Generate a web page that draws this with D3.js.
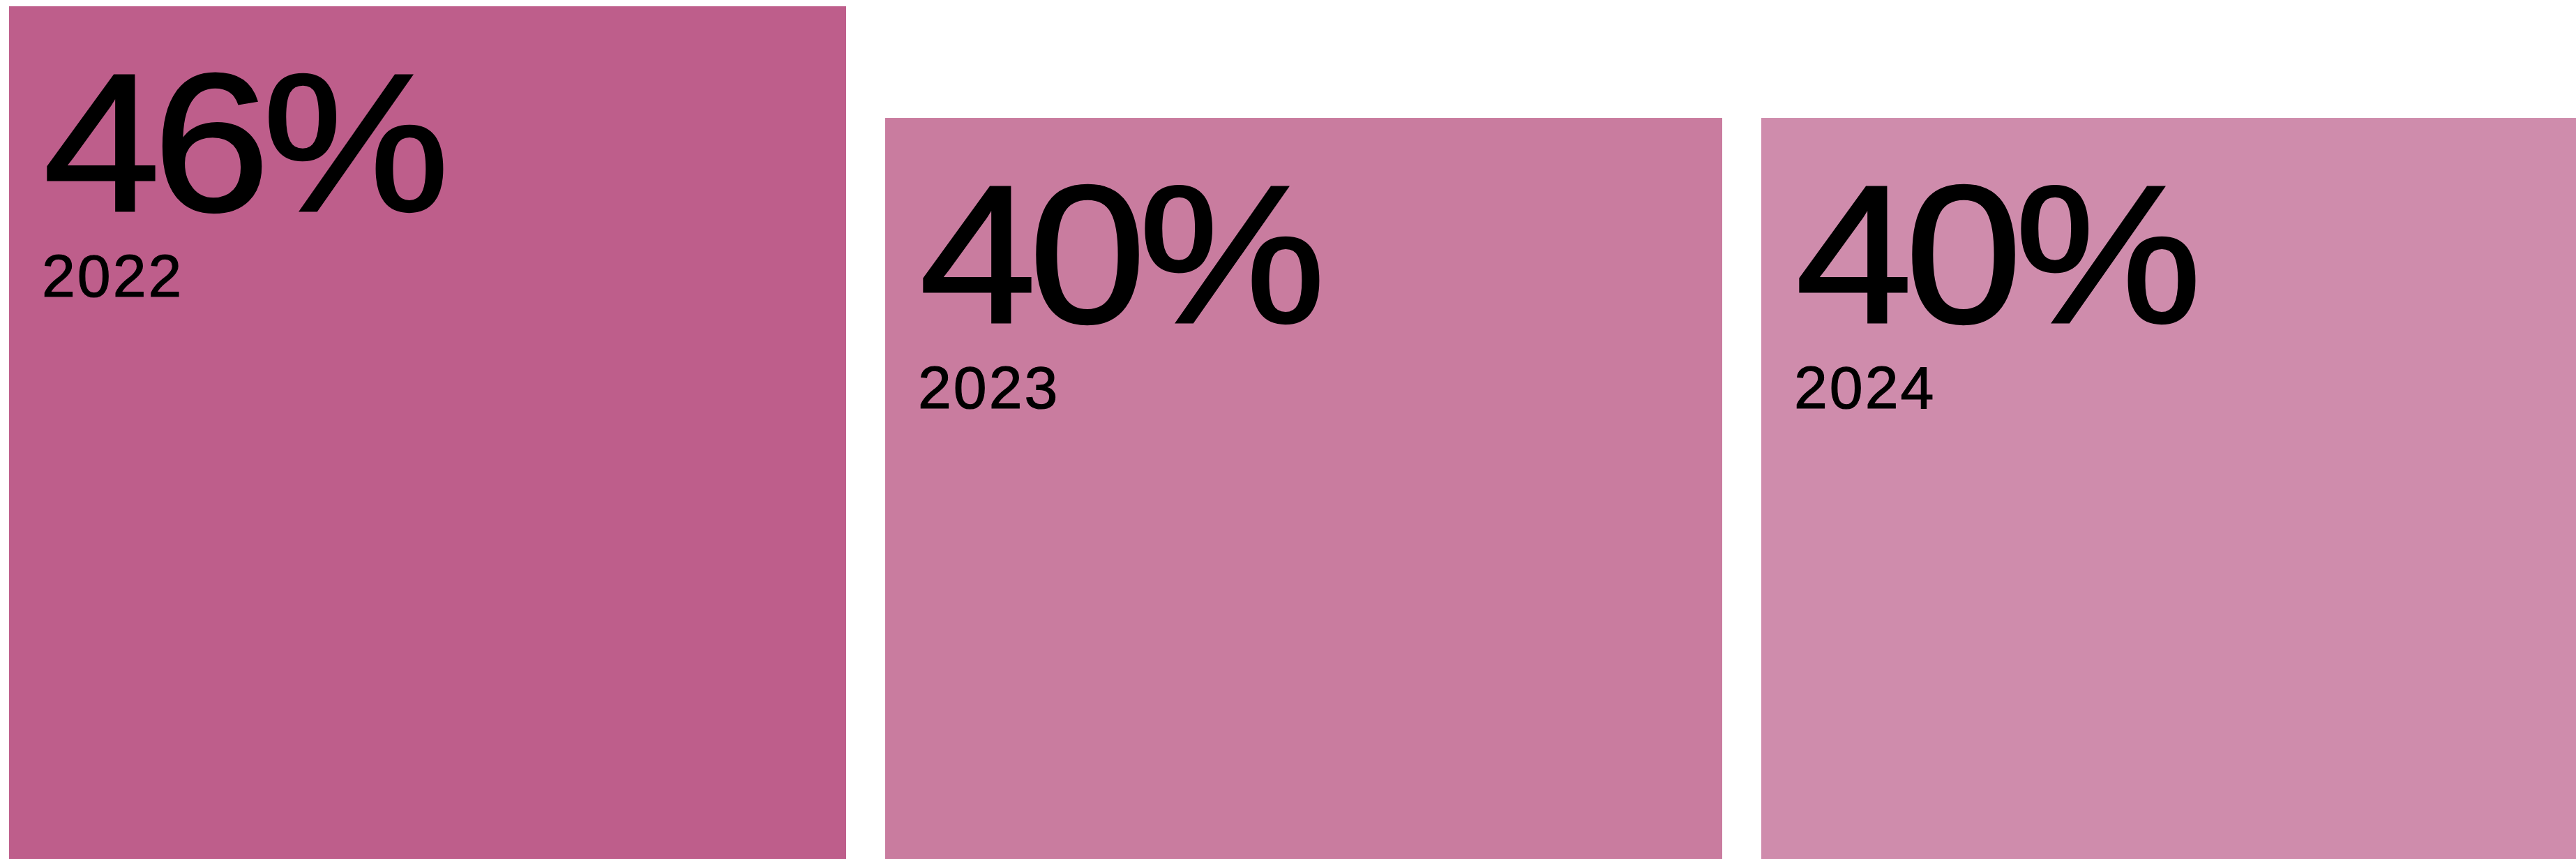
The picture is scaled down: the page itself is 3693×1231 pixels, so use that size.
<!DOCTYPE html>
<html>
<head>
<meta charset="utf-8">
<script src="https://cdn.jsdelivr.net/npm/d3@7"></script>
<style>
  html, body { margin: 0; padding: 0; background: #ffffff; overflow: hidden; }
  svg { display: block; }
  text { font-family: "Liberation Sans", Arial, Helvetica, sans-serif; fill: #000000; stroke: #000000; }
</style>
</head>
<body>
<svg id="chart"></svg>
<script>
// Share by year
const years = ["2022", "2023", "2024"];
const shares = [46, 40, 40];
const barColors = ["#BE5E8B", "#C97C9F", "#CF8CAC"];

const width = 3693, height = 1231;

const svg = d3.select("#chart")
  .attr("width", width)
  .attr("height", height)
  .attr("viewBox", `0 0 ${width} ${height}`);

// Bands run off the right edge; the last one is cut by the canvas.
const x = d3.scaleBand()
  .domain(years)
  .range([13, 3725])
  .paddingInner(0.0446)
  .paddingOuter(0);

// Baseline sits just below the bottom edge of the canvas.
const y = d3.scaleLinear()
  .domain([0, d3.max(shares)])
  .range([1236, 9]);

const rows = years.map((year, i) => ({ year, value: shares[i], color: barColors[i] }));

const g = svg.selectAll("g.bar")
  .data(rows)
  .join("g")
  .attr("class", "bar");

g.append("rect")
  .attr("x", d => x(d.year))
  .attr("y", d => y(d.value))
  .attr("width", x.bandwidth())
  .attr("height", d => y(0) - y(d.value))
  .attr("fill", d => d.color);

// Big share figure, set in a slightly widened grotesque
g.append("text")
  .attr("class", "value")
  .attr("transform", d => `translate(${x(d.year) + 49},${y(d.value) + 293}) scale(1.07,1)`)
  .attr("font-size", 282)
  .attr("stroke-width", 3)
  .attr("stroke-linejoin", "miter")
  .attr("letter-spacing", -10)
  .text(d => `${d.value}%`);

g.append("text")
  .attr("class", "year")
  .attr("x", d => x(d.year) + 47)
  .attr("y", d => y(d.value) + 416)
  .attr("font-size", 86)
  .attr("stroke-width", 1.2)
  .attr("letter-spacing", 3)
  .text(d => d.year);
</script>
</body>
</html>
